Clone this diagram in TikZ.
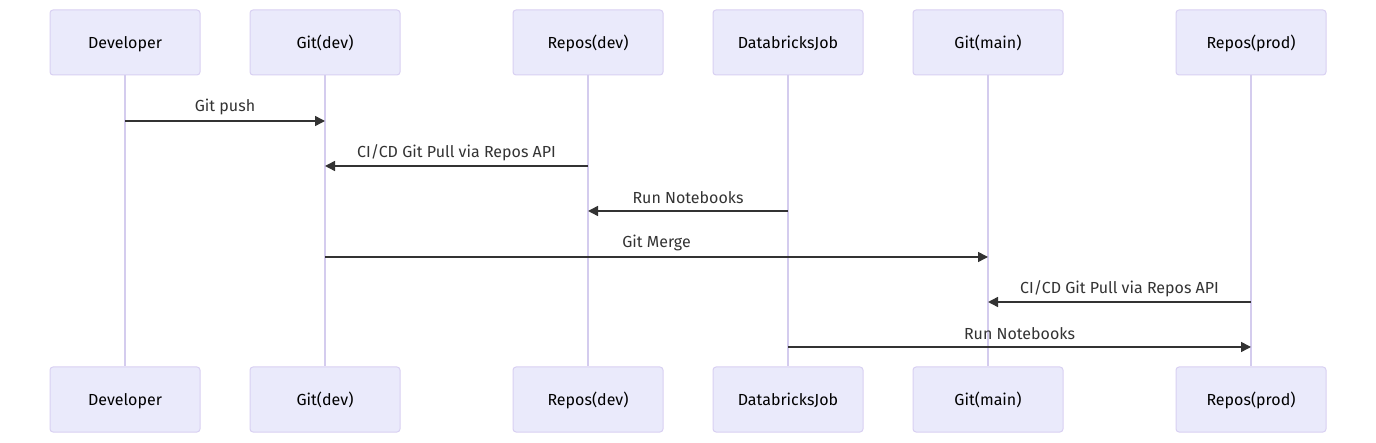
\documentclass[tikz,border=0pt]{standalone}
\usepackage{fontspec}
\setmainfont{Fira Sans}
\usetikzlibrary{arrows.meta}
\definecolor{boxfill}{HTML}{EAEAFB}
\definecolor{boxline}{HTML}{D8D0F2}
\definecolor{lifeln}{HTML}{D4CCEE}
\definecolor{msgcol}{HTML}{333333}
\tikzset{
  actor/.style={draw=boxline, fill=boxfill, line width=1pt, rounded corners=3pt,
    minimum width=150pt, minimum height=65pt, inner sep=0pt,
    text height=14pt, text depth=2pt,
    font=\fontsize{16}{18}\selectfont, text=black},
  lifeline/.style={draw=lifeln, line width=1.5pt},
  msg/.style={draw=msgcol, line width=1.5pt, -{Triangle[length=10pt,width=10pt]}},
  lbl/.style={font=\fontsize{16}{18}\selectfont, text=msgcol, inner sep=0pt,
    text height=14pt, text depth=2pt}
}
\begin{document}
\begin{tikzpicture}[x=1pt,y=-1pt]
\useasboundingbox (0,0) rectangle (1376,443);
% top actors
\node[actor] (dT) at (125,42.5) {Developer};
\node[actor] (gdT) at (325,42.5) {Git(dev)};
\node[actor] (rdT) at (588,42.5) {Repos(dev)};
\node[actor] (djT) at (788,42.5) {DatabricksJob};
\node[actor] (gmT) at (988,42.5) {Git(main)};
\node[actor] (rpT) at (1251,42.5) {Repos(prod)};
% bottom actors
\node[actor] (dB) at (125,399.5) {Developer};
\node[actor] (gdB) at (325,399.5) {Git(dev)};
\node[actor] (rdB) at (588,399.5) {Repos(dev)};
\node[actor] (djB) at (788,399.5) {DatabricksJob};
\node[actor] (gmB) at (988,399.5) {Git(main)};
\node[actor] (rpB) at (1251,399.5) {Repos(prod)};
% lifelines
\foreach \a in {d,gd,rd,dj,gm,rp}{
  \draw[lifeline] (\a T.south) -- (\a B.north);
}
% message coordinates
\coordinate (m1s) at (125,121); \coordinate (m1e) at (325,121);
\coordinate (m2s) at (588,166); \coordinate (m2e) at (325,166);
\coordinate (m3s) at (788,211); \coordinate (m3e) at (588,211);
\coordinate (m4s) at (325,257); \coordinate (m4e) at (988,257);
\coordinate (m5s) at (1251,302); \coordinate (m5e) at (988,302);
\coordinate (m6s) at (788,347); \coordinate (m6e) at (1251,347);
\draw[msg] (m1s) -- (m1e);
\draw[msg] (m2s) -- (m2e);
\draw[msg] (m3s) -- (m3e);
\draw[msg] (m4s) -- (m4e);
\draw[msg] (m5s) -- (m5e);
\draw[msg] (m6s) -- (m6e);
\node[lbl] (l1) at (225,106) {Git push};
\node[lbl] (l2) at (456.5,152) {CI/CD Git Pull via Repos API};
\node[lbl] (l3) at (688,198) {Run Notebooks};
\node[lbl] (l4) at (656.5,242) {Git Merge};
\node[lbl] (l5) at (1119.5,288) {CI/CD Git Pull via Repos API};
\node[lbl] (l6) at (1019.5,334) {Run Notebooks};
\end{tikzpicture}
\end{document}
